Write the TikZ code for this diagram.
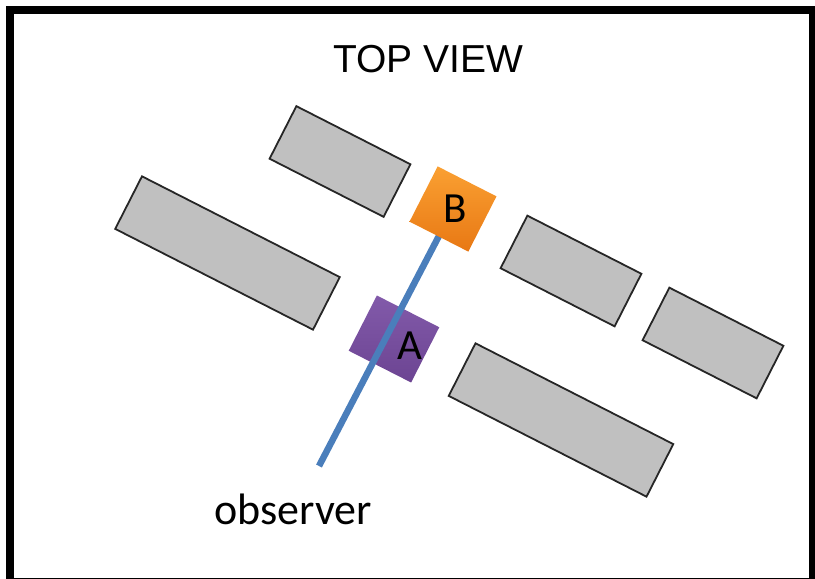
\documentclass[tikz,border=0pt]{standalone}
\usepackage{fontspec}
\setmainfont{Liberation Sans}
\newfontfamily\calibrifont{Carlito}
\usetikzlibrary{positioning}
\definecolor{bldggray}{RGB}{192,192,192}
\definecolor{sightblue}{RGB}{74,126,187}
\definecolor{orangetop}{RGB}{250,160,50}
\definecolor{orangebot}{RGB}{232,120,20}
\definecolor{purpletop}{RGB}{130,90,170}
\definecolor{purplebot}{RGB}{108,68,146}
\tikzset{
  bldg/.style={draw=black!85, line width=1.8pt, fill=bldggray, rotate=-27, minimum height=59, inner sep=0pt},
  marker/.style={rotate=-27, inner sep=0pt, font=\calibrifont\fontsize{43}{43}\selectfont},
}

\begin{document}
\begin{tikzpicture}[x=1pt,y=1pt]
	\clip (0,0) rectangle (815,579);
	\draw [line width=8pt] (10,569) rectangle (813,-3.5);
	\node [anchor=base] (title) at (428,506) {\fontsize{39}{39}\selectfont TOP VIEW};
	% buildings
	\node [bldg, minimum width=128] (bldgA) at (340,417.5) {};
	\node [bldg, minimum width=222] (bldgB) at (227.5,326) {};
	\node [bldg, minimum width=128] (bldgC) at (571,308) {};
	\node [bldg, minimum width=128] (bldgD) at (713,236) {};
	\node [bldg, minimum width=222] (bldgE) at (561,159) {};
	% objects and line of sight
	\node [marker, minimum width=70, minimum height=62, top color=purpletop, bottom color=purplebot] (sqA) at (394,240) {};
	\coordinate (obs) at (319,113);
	\coordinate (bc) at (453,370);
	\draw [sightblue, line width=6.5pt] (obs) -- (bc);
	\node [marker, minimum width=66, minimum height=62, top color=orangetop, bottom color=orangebot] (sqB) at (bc) {};
	\node [font=\calibrifont\fontsize{43}{43}\selectfont] (B) at (455,370) {B};
	\node [font=\calibrifont\fontsize{43}{43}\selectfont] (A) at (410,233) {A};
	\node [anchor=base, font=\calibrifont\fontsize{44}{44}\selectfont] (observer) at (293,54) {observer};
\end{tikzpicture}
\end{document}
